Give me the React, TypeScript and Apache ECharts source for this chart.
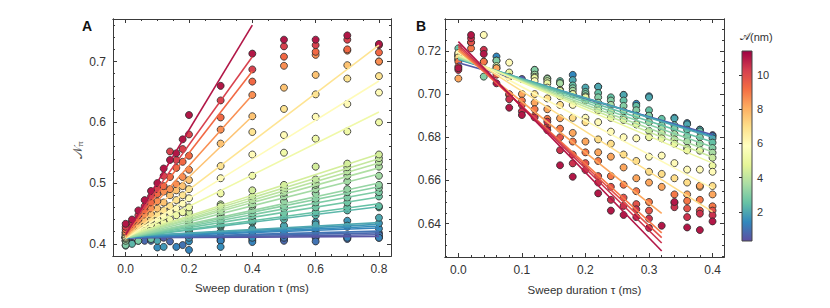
import React, { useEffect, useRef } from 'react';
import * as echarts from 'echarts';

// ---------- colour scale (Spectral, low -> high) ----------
const spectral = ['#5e4fa2', '#3288bd', '#66c2a5', '#abdda4', '#e6f598', '#ffffbf', '#fee08b', '#fdae61', '#f46d43', '#d53e4f', '#9e0142'];
const colorMin = 0.3;
const colorMax = 11.4;
const colorbarTicks = [2, 4, 6, 8, 10];

// ---------- axes ----------
const xTicksA = [0, 0.2, 0.4, 0.6, 0.8];
const xMinorA = [0.05, 0.1, 0.15, 0.25, 0.3, 0.35, 0.45, 0.5, 0.55, 0.65, 0.7, 0.75];
const yTicksA = [0.4, 0.5, 0.6, 0.7];
const yMinorA = [0.38, 0.42, 0.44, 0.46, 0.48, 0.52, 0.54, 0.56, 0.58, 0.62, 0.64, 0.66, 0.68, 0.72, 0.74, 0.76];
const xTicksB = [0, 0.1, 0.2, 0.3, 0.4];
const xMinorB = [0.02, 0.04, 0.06, 0.08, 0.12, 0.14, 0.16, 0.18, 0.22, 0.24, 0.26, 0.28, 0.32, 0.34, 0.36, 0.38];
const yTicksB = [0.64, 0.66, 0.68, 0.7, 0.72];
const yMinorB = [0.625, 0.63, 0.635, 0.645, 0.65, 0.655, 0.665, 0.67, 0.675, 0.685, 0.69, 0.695, 0.705, 0.71, 0.715, 0.725, 0.73];

// ---------- panel A data ----------
const ampA = [11.0, 10.2, 9.3, 8.6, 7.6, 6.8, 6.0, 5.2, 4.4, 4.1, 3.9, 3.7, 3.5, 3.3, 3.1, 2.9, 2.7, 2.5, 2.3, 2.0, 1.7, 1.5, 1.3, 1.0, 0.8, 0.6, 0.4];
const fitA = [
  [0, 0.415, 0.4, 0.760], [0, 0.418, 0.4, 0.708], [0, 0.415, 0.4, 0.684], [0, 0.412, 0.4, 0.645], [0, 0.41, 0.4, 0.610],
  [0, 0.41, 0.8, 0.727], [0, 0.41, 0.8, 0.668], [0, 0.41, 0.8, 0.617],
  [0, 0.412, 0.8, 0.548], [0, 0.412, 0.8, 0.540], [0, 0.411, 0.8, 0.533], [0, 0.411, 0.8, 0.525], [0, 0.41, 0.8, 0.515],
  [0, 0.41, 0.8, 0.500], [0, 0.41, 0.8, 0.494], [0, 0.41, 0.8, 0.486], [0, 0.41, 0.8, 0.477], [0, 0.41, 0.8, 0.466], [0, 0.41, 0.8, 0.461],
  [0, 0.412, 0.8, 0.435], [0, 0.412, 0.8, 0.432], [0, 0.411, 0.8, 0.429], [0, 0.411, 0.8, 0.426], [0, 0.41, 0.8, 0.421],
  [0, 0.41, 0.8, 0.418], [0, 0.41, 0.8, 0.415], [0, 0.41, 0.8, 0.412],
];
const pointsA = [
  [[0, 0.433], [0.02, 0.44], [0.04, 0.455], [0.06, 0.472], [0.08, 0.487], [0.1, 0.5], [0.12, 0.524], [0.14, 0.538], [0.16, 0.549], [0.18, 0.572], [0.2, 0.612], [0.3, 0.66], [0.4, 0.713], [0.5, 0.736], [0.6, 0.736], [0.7, 0.743], [0.8, 0.729]],
  [[0, 0.428], [0.02, 0.436], [0.04, 0.447], [0.06, 0.462], [0.08, 0.478], [0.1, 0.49], [0.12, 0.512], [0.14, 0.552], [0.16, 0.538], [0.18, 0.556], [0.2, 0.58], [0.3, 0.636], [0.4, 0.687], [0.5, 0.725], [0.6, 0.727], [0.7, 0.736], [0.8, 0.727]],
  [[0, 0.424], [0.02, 0.432], [0.04, 0.44], [0.06, 0.455], [0.08, 0.468], [0.1, 0.482], [0.12, 0.495], [0.14, 0.51], [0.16, 0.525], [0.18, 0.535], [0.2, 0.545], [0.3, 0.608], [0.4, 0.667], [0.5, 0.708], [0.6, 0.716], [0.7, 0.72], [0.8, 0.715]],
  [[0, 0.42], [0.02, 0.428], [0.04, 0.438], [0.06, 0.448], [0.08, 0.458], [0.1, 0.47], [0.12, 0.486], [0.14, 0.49], [0.16, 0.498], [0.18, 0.51], [0.2, 0.522], [0.3, 0.588], [0.4, 0.645], [0.5, 0.693], [0.6, 0.711], [0.7, 0.718], [0.8, 0.70]],
  [[0, 0.418], [0.02, 0.422], [0.04, 0.43], [0.06, 0.438], [0.08, 0.448], [0.1, 0.458], [0.12, 0.468], [0.14, 0.48], [0.16, 0.488], [0.18, 0.495], [0.2, 0.505], [0.3, 0.565], [0.4, 0.61], [0.5, 0.657], [0.6, 0.678], [0.7, 0.694], [0.8, 0.70]],
  [[0, 0.415], [0.02, 0.42], [0.04, 0.425], [0.06, 0.432], [0.08, 0.44], [0.1, 0.448], [0.12, 0.455], [0.14, 0.462], [0.16, 0.472], [0.18, 0.48], [0.2, 0.49], [0.3, 0.528], [0.4, 0.584], [0.5, 0.622], [0.6, 0.646], [0.7, 0.672], [0.8, 0.676]],
  [[0, 0.412], [0.04, 0.42], [0.06, 0.428], [0.08, 0.432], [0.1, 0.44], [0.12, 0.445], [0.14, 0.452], [0.16, 0.458], [0.18, 0.466], [0.2, 0.475], [0.3, 0.508], [0.4, 0.547], [0.5, 0.579], [0.6, 0.609], [0.7, 0.63], [0.8, 0.649]],
  [[0, 0.41], [0.04, 0.418], [0.08, 0.425], [0.1, 0.43], [0.12, 0.435], [0.14, 0.44], [0.16, 0.447], [0.18, 0.452], [0.2, 0.46], [0.3, 0.483], [0.4, 0.512], [0.5, 0.55], [0.6, 0.573], [0.7, 0.585], [0.8, 0.60]],
  [[0, 0.418], [0.2, 0.452], [0.3, 0.462], [0.4, 0.488], [0.5, 0.497], [0.6, 0.527], [0.7, 0.532], [0.8, 0.547]],
  [[0, 0.415], [0.1, 0.43], [0.2, 0.447], [0.3, 0.465], [0.4, 0.478], [0.5, 0.492], [0.6, 0.506], [0.7, 0.526], [0.8, 0.541]],
  [[0, 0.41], [0.2, 0.442], [0.3, 0.455], [0.4, 0.472], [0.5, 0.488], [0.6, 0.5], [0.7, 0.519], [0.8, 0.535]],
  [[0, 0.408], [0.1, 0.42], [0.2, 0.438], [0.3, 0.452], [0.4, 0.465], [0.5, 0.484], [0.6, 0.497], [0.7, 0.512], [0.8, 0.527]],
  [[0, 0.412], [0.2, 0.436], [0.3, 0.448], [0.4, 0.462], [0.5, 0.478], [0.6, 0.49], [0.7, 0.503], [0.8, 0.512]],
  [[0, 0.405], [0.1, 0.418], [0.2, 0.432], [0.3, 0.445], [0.4, 0.455], [0.5, 0.47], [0.6, 0.483], [0.7, 0.49], [0.8, 0.497]],
  [[0, 0.41], [0.2, 0.43], [0.3, 0.44], [0.4, 0.45], [0.5, 0.462], [0.6, 0.474], [0.7, 0.485], [0.8, 0.492]],
  [[0, 0.398], [0.04, 0.405], [0.2, 0.428], [0.3, 0.438], [0.4, 0.446], [0.5, 0.458], [0.6, 0.468], [0.7, 0.476], [0.8, 0.485]],
  [[0, 0.405], [0.08, 0.408], [0.2, 0.425], [0.3, 0.432], [0.4, 0.44], [0.5, 0.45], [0.6, 0.46], [0.7, 0.468], [0.8, 0.478]],
  [[0, 0.41], [0.2, 0.422], [0.3, 0.43], [0.4, 0.437], [0.5, 0.445], [0.6, 0.452], [0.7, 0.46], [0.8, 0.462]],
  [[0, 0.397], [0.02, 0.40], [0.2, 0.42], [0.3, 0.428], [0.4, 0.435], [0.5, 0.44], [0.6, 0.447], [0.7, 0.455], [0.8, 0.46]],
  [[0, 0.412], [0.1, 0.405], [0.2, 0.415], [0.3, 0.42], [0.4, 0.425], [0.5, 0.43], [0.6, 0.432], [0.7, 0.43], [0.8, 0.443]],
  [[0, 0.405], [0.12, 0.395], [0.2, 0.41], [0.3, 0.418], [0.4, 0.42], [0.5, 0.427], [0.6, 0.436], [0.7, 0.438], [0.8, 0.434]],
  [[0, 0.41], [0.1, 0.394], [0.2, 0.404], [0.3, 0.395], [0.4, 0.41], [0.5, 0.42], [0.6, 0.425], [0.7, 0.428], [0.8, 0.425]],
  [[0.04, 0.405], [0.16, 0.395], [0.2, 0.39], [0.3, 0.405], [0.4, 0.403], [0.5, 0.415], [0.6, 0.42], [0.7, 0.41], [0.8, 0.41]],
  [[0, 0.41], [0.08, 0.405], [0.18, 0.398], [0.3, 0.41], [0.4, 0.415], [0.5, 0.41], [0.6, 0.404], [0.7, 0.412], [0.8, 0.415]],
  [[0.06, 0.405], [0.14, 0.404], [0.2, 0.41], [0.3, 0.412], [0.4, 0.406], [0.5, 0.405], [0.6, 0.412], [0.7, 0.408], [0.8, 0.418]],
  [[0.02, 0.402], [0.12, 0.41], [0.3, 0.405], [0.4, 0.41], [0.5, 0.41], [0.6, 0.41], [0.7, 0.413], [0.8, 0.41]],
  [[0.1, 0.41], [0.3, 0.408], [0.5, 0.407], [0.7, 0.41], [0.8, 0.412]],
];

// ---------- panel B data ----------
const ampB = [11.0, 10.5, 9.8, 9.0, 8.2, 7.0, 6.0, 5.0, 4.2, 3.6, 3.0, 2.5, 2.0, 1.4, 0.5];
const fitB = [
  [0, 0.7243, 0.32, 0.6273], [0, 0.723, 0.32, 0.631], [0, 0.722, 0.32, 0.6335], [0, 0.721, 0.32, 0.6357], [0, 0.72, 0.32, 0.6447],
  [0, 0.72, 0.4, 0.6454], [0, 0.719, 0.4, 0.6563], [0, 0.718, 0.4, 0.668], [0, 0.7175, 0.4, 0.6707], [0, 0.717, 0.4, 0.6732],
  [0, 0.7168, 0.4, 0.6755], [0, 0.7165, 0.4, 0.6778], [0, 0.7163, 0.4, 0.68], [0, 0.716, 0.4, 0.6805], [0, 0.7145, 0.4, 0.6812],
];
const pointsB = [
  [[0, 0.712], [0.02, 0.7274], [0.04, 0.7186], [0.06, 0.705], [0.08, 0.6937], [0.1, 0.6903], [0.14, 0.6833], [0.16, 0.667], [0.18, 0.6617], [0.22, 0.654], [0.24, 0.646], [0.26, 0.644], [0.28, 0.643], [0.3, 0.638], [0.32, 0.639], [0.34, 0.65], [0.36, 0.6382], [0.38, 0.637], [0.4, 0.641]],
  [[0, 0.7112], [0.02, 0.7259], [0.04, 0.7205], [0.08, 0.6976], [0.1, 0.692], [0.12, 0.6892], [0.14, 0.6872], [0.16, 0.674], [0.18, 0.6679], [0.2, 0.6648], [0.22, 0.659], [0.24, 0.651], [0.26, 0.6482], [0.28, 0.6466], [0.3, 0.6423], [0.34, 0.6476], [0.36, 0.643], [0.38, 0.6446], [0.4, 0.6438]],
  [[0, 0.7127], [0.02, 0.724], [0.06, 0.709], [0.08, 0.70], [0.1, 0.695], [0.12, 0.69], [0.14, 0.685], [0.16, 0.68], [0.18, 0.672], [0.2, 0.668], [0.22, 0.662], [0.24, 0.657], [0.26, 0.652], [0.28, 0.649], [0.3, 0.646], [0.34, 0.6496], [0.36, 0.647], [0.38, 0.646], [0.4, 0.646]],
  [[0, 0.715], [0.02, 0.7212], [0.04, 0.715], [0.08, 0.6996], [0.1, 0.697], [0.12, 0.693], [0.14, 0.6885], [0.16, 0.684], [0.18, 0.678], [0.2, 0.673], [0.22, 0.669], [0.24, 0.662], [0.26, 0.658], [0.28, 0.655], [0.3, 0.65], [0.34, 0.6535], [0.36, 0.6505], [0.38, 0.651], [0.4, 0.648]],
  [[0, 0.7072], [0.02, 0.7239], [0.06, 0.712], [0.1, 0.70], [0.12, 0.696], [0.14, 0.693], [0.16, 0.6888], [0.18, 0.682], [0.2, 0.678], [0.22, 0.673], [0.24, 0.671], [0.26, 0.666], [0.28, 0.661], [0.3, 0.659], [0.32, 0.657], [0.36, 0.6535], [0.38, 0.6575], [0.4, 0.6535]],
  [[0, 0.717], [0.04, 0.715], [0.08, 0.708], [0.12, 0.70], [0.14, 0.698], [0.16, 0.695], [0.18, 0.689], [0.2, 0.687], [0.22, 0.679], [0.24, 0.677], [0.26, 0.672], [0.28, 0.669], [0.3, 0.664], [0.32, 0.663], [0.34, 0.661], [0.36, 0.659], [0.38, 0.657], [0.4, 0.6574]],
  [[0, 0.719], [0.04, 0.7274], [0.08, 0.7146], [0.12, 0.706], [0.14, 0.703], [0.16, 0.699], [0.18, 0.695], [0.2, 0.689], [0.22, 0.687], [0.24, 0.6826], [0.26, 0.68], [0.28, 0.6795], [0.3, 0.671], [0.32, 0.6715], [0.34, 0.668], [0.36, 0.665], [0.38, 0.665], [0.4, 0.664]],
  [[0, 0.718], [0.06, 0.712], [0.08, 0.71], [0.12, 0.7075], [0.14, 0.705], [0.16, 0.7015], [0.18, 0.70], [0.2, 0.6985], [0.22, 0.6925], [0.24, 0.689], [0.26, 0.688], [0.28, 0.686], [0.3, 0.68], [0.32, 0.6795], [0.34, 0.677], [0.36, 0.6739], [0.38, 0.6738], [0.4, 0.6668]],
  [[0, 0.716], [0.06, 0.713], [0.12, 0.708], [0.14, 0.706], [0.16, 0.702], [0.18, 0.70], [0.2, 0.697], [0.22, 0.694], [0.24, 0.692], [0.26, 0.689], [0.28, 0.686], [0.3, 0.683], [0.32, 0.682], [0.34, 0.679], [0.36, 0.675], [0.38, 0.674], [0.4, 0.6705]],
  [[0, 0.718], [0.12, 0.709], [0.14, 0.707], [0.16, 0.705], [0.18, 0.7015], [0.2, 0.699], [0.22, 0.696], [0.24, 0.695], [0.26, 0.692], [0.28, 0.69], [0.3, 0.687], [0.32, 0.684], [0.34, 0.6815], [0.36, 0.678], [0.38, 0.677], [0.4, 0.6728]],
  [[0, 0.7174], [0.04, 0.7081], [0.06, 0.7155], [0.12, 0.7112], [0.14, 0.7073], [0.16, 0.705], [0.18, 0.7027], [0.2, 0.70], [0.22, 0.6985], [0.24, 0.697], [0.26, 0.6945], [0.28, 0.6925], [0.3, 0.69], [0.32, 0.6855], [0.34, 0.684], [0.36, 0.6805], [0.38, 0.68], [0.4, 0.675]],
  [[0, 0.7212], [0.06, 0.7155], [0.12, 0.7096], [0.16, 0.706], [0.18, 0.704], [0.2, 0.701], [0.22, 0.7005], [0.24, 0.6985], [0.26, 0.697], [0.28, 0.6945], [0.3, 0.6925], [0.32, 0.6885], [0.34, 0.6856], [0.36, 0.6835], [0.38, 0.6827], [0.4, 0.6775]],
  [[0, 0.719], [0.12, 0.7112], [0.18, 0.7065], [0.2, 0.703], [0.22, 0.7034], [0.26, 0.6996], [0.3, 0.6985], [0.34, 0.6887], [0.36, 0.686], [0.38, 0.6835], [0.4, 0.6795]],
  [[0.06, 0.7174], [0.18, 0.7089], [0.2, 0.70], [0.22, 0.7034], [0.26, 0.6996], [0.28, 0.6955], [0.3, 0.699], [0.34, 0.689], [0.36, 0.6866], [0.38, 0.6835], [0.4, 0.6805]],
  [[0, 0.716], [0.1, 0.707], [0.2, 0.698], [0.3, 0.69], [0.4, 0.681]],
];

const xNameText = 'Sweep duration \u03c4 (ms)';

const FONT = '"Liberation Sans", Arial, sans-serif';
const INK = '#333333';

function colorOf(a: number): string {
  const t = Math.min(1, Math.max(0, (a - colorMin) / (colorMax - colorMin)));
  return echarts.color.lerp(t, spectral) as string;
}

function makeAxes(dim: 'x' | 'y', gridIndex: number, min: number, max: number, majors: number[], minors: number[], digits: number, extra: any = {}) {
  const lineStyle = { color: '#3a3a3a', width: 1 };
  const base: any = {
    type: 'value', gridIndex, min, max,
    splitLine: { show: false },
    axisLine: { show: true, onZero: false, lineStyle },
  };
  const pos = dim === 'x' ? ['bottom', 'top'] : ['left', 'right'];
  const majorTick = { show: true, inside: true, length: 4, customValues: majors, lineStyle };
  const minorTick = { show: true, inside: true, length: 2, customValues: minors, lineStyle };
  return [
    {
      ...base, position: pos[0], axisTick: majorTick,
      axisLabel: {
        show: true, customValues: majors, formatter: (v: number) => v.toFixed(digits),
        color: INK, fontSize: 12, fontFamily: FONT, margin: extra.labelMargin ?? 7,
      },
      ...(extra.name ? {
        name: extra.name, nameLocation: 'middle', nameGap: extra.nameGap,
        nameTextStyle: { color: INK, fontSize: 11.5, fontFamily: FONT, verticalAlign: 'top' },
      } : {}),
    },
    { ...base, position: pos[0], axisTick: minorTick, axisLabel: { show: false } },
    { ...base, position: pos[1], axisTick: majorTick, axisLabel: { show: false } },
    { ...base, position: pos[1], axisTick: minorTick, axisLabel: { show: false } },
  ];
}

export default function App() {
  const ref = useRef<HTMLDivElement>(null);

  useEffect(() => {
    document.body.style.margin = '0';
    if (!ref.current) return;
    const chart = echarts.init(ref.current, undefined, { renderer: 'svg' });

    const xAxes = [
      ...makeAxes('x', 0, -0.04, 0.838, xTicksA, xMinorA, 1, { name: xNameText, nameGap: 26 }),
      ...makeAxes('x', 1, -0.021, 0.418, xTicksB, xMinorB, 1, { name: xNameText, nameGap: 27 }),
      { type: 'value', gridIndex: 2, min: 0, max: 1, show: false },
    ];
    const yAxes = [
      ...makeAxes('y', 0, 0.38, 0.77, yTicksA, yMinorA, 1, { labelMargin: 7 }),
      ...makeAxes('y', 1, 0.6245, 0.7348, yTicksB, yMinorB, 2, { labelMargin: 4 }),
      {
        type: 'value', gridIndex: 2, min: colorMin, max: colorMax, position: 'right', z: 5,
        splitLine: { show: false },
        axisLine: { show: false },
        axisTick: { show: true, inside: true, length: 3, customValues: colorbarTicks, lineStyle: { color: '#333' } },
        axisLabel: { show: true, customValues: colorbarTicks, color: INK, fontSize: 11, fontFamily: FONT, margin: 5 },
      },
    ];

    const series: any[] = [];
    const addPanel = (amps: number[], pts: number[][][], fits: number[][], axisIndex: number) => {
      const order = amps.map((_, i) => i).sort((i, j) => amps[i] - amps[j]);
      order.forEach((i) => {
        series.push({
          type: 'scatter', xAxisIndex: axisIndex, yAxisIndex: axisIndex,
          data: pts[i], symbolSize: 7, z: 2,
          itemStyle: { color: colorOf(amps[i]), borderColor: '#2a2a2a', borderWidth: 0.8, opacity: 1 },
        });
      });
      order.forEach((i) => {
        const f = fits[i];
        series.push({
          type: 'line', xAxisIndex: axisIndex, yAxisIndex: axisIndex,
          data: [[f[0], f[1]], [f[2], f[3]]], showSymbol: false, symbol: 'none', z: 3,
          lineStyle: { color: colorOf(amps[i]), width: 1.6 },
        });
      });
    };
    addPanel(ampA, pointsA, fitA, 0);
    addPanel(ampB, pointsB, fitB, 4);

    const stops = spectral.map((c, i) => ({ offset: i / (spectral.length - 1), color: c }));
    series.push({
      type: 'custom', xAxisIndex: 8, yAxisIndex: 8, z: 0, clip: false,
      data: [[0, colorMin]],
      renderItem: (_p: any, api: any) => {
        const p0 = api.coord([0, colorMin]);
        const p1 = api.coord([1, colorMax]);
        return {
          type: 'rect',
          shape: { x: p0[0], y: p1[1], width: p1[0] - p0[0], height: p0[1] - p1[1] },
          style: { fill: new echarts.graphic.LinearGradient(0, 1, 0, 0, stops), stroke: '#444', lineWidth: 1 },
        };
      },
    });

    chart.setOption({
      animation: false,
      backgroundColor: '#ffffff',
      grid: [
        { left: 113, top: 19, width: 278, height: 237, outerBoundsMode: 'none' },
        { left: 445, top: 19, width: 279, height: 238, outerBoundsMode: 'none' },
        { left: 742, top: 51, width: 10, height: 190, outerBoundsMode: 'none' },
      ],
      xAxis: xAxes,
      yAxis: yAxes,
      series,
      graphic: [
        { type: 'text', left: 82, top: 19, style: { text: 'A', font: `bold 14px ${FONT}`, fill: '#111' } },
        { type: 'text', left: 416, top: 19, style: { text: 'B', font: `bold 14px ${FONT}`, fill: '#111' } },
        {
          type: 'text', x: 77, y: 150, rotation: Math.PI / 2,
          style: {
            text: '{n|\u{1D4A9}}{s|\u03c0}', align: 'center', verticalAlign: 'middle',
            rich: {
              n: { fontSize: 13, fontFamily: 'DejaVu Serif, serif', fill: '#555' },
              s: { fontSize: 8, fontFamily: FONT, fill: '#555', padding: [6, 0, 0, 0] },
            },
          },
        },
        {
          type: 'text', left: 740, top: 31,
          style: {
            text: '{a|\u{1D49C}}{b|(nm)}',
            rich: {
              a: { fontSize: 11, fontFamily: 'DejaVu Serif, serif', fill: INK },
              b: { fontSize: 11, fontFamily: FONT, fill: INK },
            },
          },
        },
      ],
    });

    return () => chart.dispose();
  }, []);

  return <div ref={ref} style={{ width: 830, height: 308 }} />;
}
